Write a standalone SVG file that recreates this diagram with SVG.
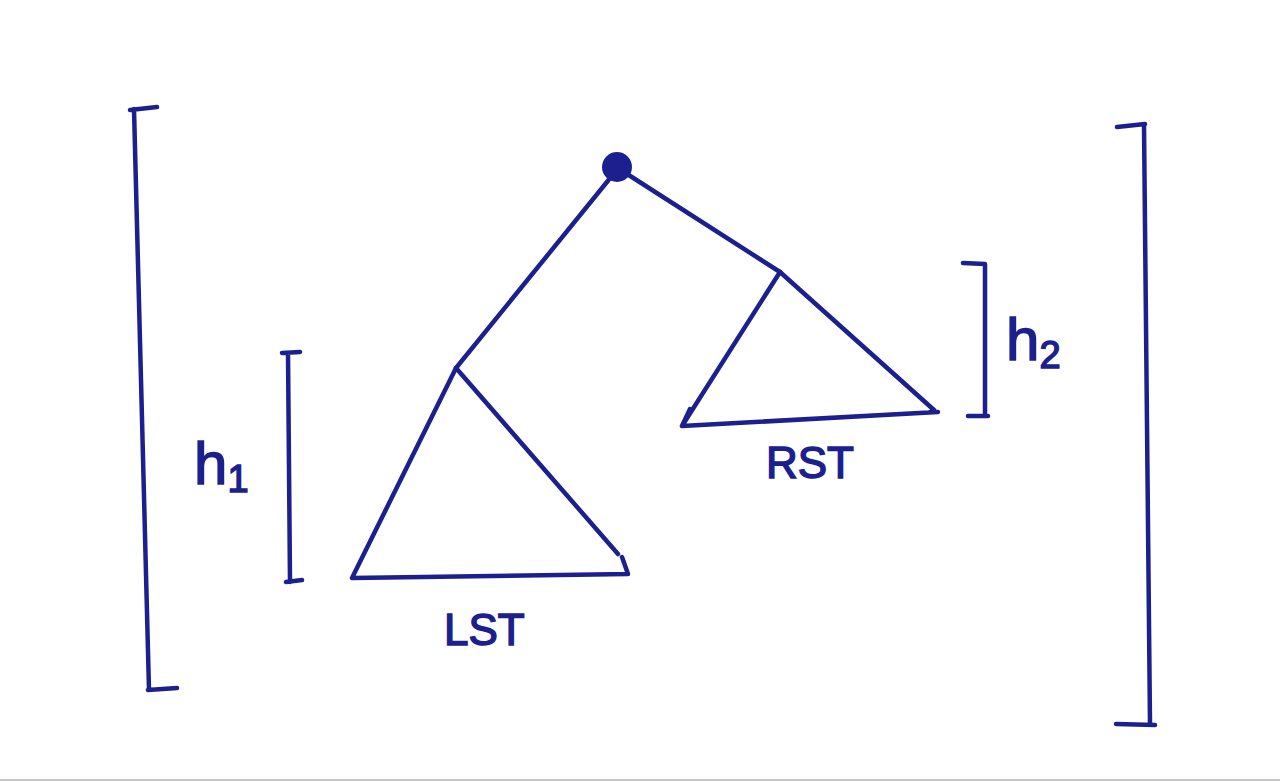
<svg xmlns="http://www.w3.org/2000/svg" width="1280" height="781" viewBox="0 0 1280 781">
<style>
.ink{fill:none;stroke:#1c208f;stroke-width:4.5;stroke-linecap:round;stroke-linejoin:round}
.lbl{fill:#1c208f;stroke:#1c208f;stroke-width:1.5;font-family:"Liberation Sans",Arial,sans-serif}
</style>
<rect width="1280" height="781" fill="#ffffff"/>
<line x1="0" y1="780" x2="1280" y2="780" stroke="#c8c8c8" stroke-width="2"/>
<g id="outer-bracket-left">
<path class="ink" d="M130 110 L157 107 M134 109 L149 690 M148 690 L177 688"/>
</g>
<g id="outer-bracket-right">
<path class="ink" d="M1117 127 L1145 124 M1144 125 L1150 724 M1116 724 L1155 725"/>
</g>
<g id="connectors">
<path class="ink" d="M611 177 L456 368"/>
<path class="ink" d="M624 172 L780 272"/>
</g>
<g id="root">
<circle cx="617" cy="167" r="15" fill="#1c208f"/>
</g>
<g id="LST">
<path class="ink" d="M456 368 L352 578 L628 574 L622 557 M456 368 L618 554"/>
<text class="lbl" x="444" y="645" font-size="44">LST</text>
</g>
<g id="RST">
<path class="ink" d="M780 272 L682 426 L938 412 L930 412 M780 272 L934 410 M682 426 L690 409"/>
<text class="lbl" x="766" y="478" font-size="44">RST</text>
</g>
<g id="h1">
<path class="ink" d="M282 353 L300 352 M288 353 L290 582 M286 582 L302 580"/>
<text class="lbl" x="194" y="484" font-size="60">h<tspan font-size="38" dy="8">1</tspan></text>
</g>
<g id="h2">
<path class="ink" d="M963 263 L985 264 M985 264 L985 416 M968 416 L988 416"/>
<text class="lbl" x="1006" y="360" font-size="60">h<tspan font-size="38" dy="8">2</tspan></text>
</g>
</svg>
